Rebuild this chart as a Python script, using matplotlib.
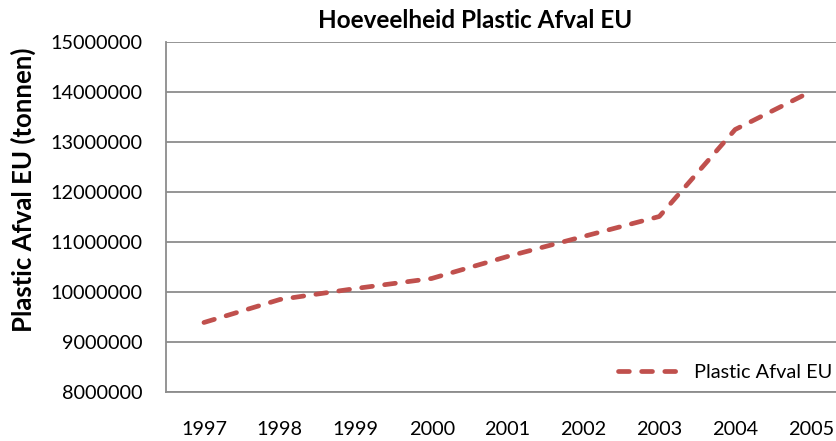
import matplotlib
matplotlib.use("Agg")
import matplotlib.pyplot as plt

years = ["1997", "1998", "1999", "2000", "2001", "2002", "2003", "2004", "2005"]
values = [9390000, 9850000, 10070000, 10270000, 10710000, 11110000, 11510000, 13250000, 14010000]
yticks = [8000000, 9000000, 10000000, 11000000, 12000000, 13000000, 14000000, 15000000]

plt.rcParams['font.family'] = ['Lato', 'DejaVu Sans']

fig = plt.figure(figsize=(8.37, 4.41), dpi=100)
ax = fig.add_axes([166/837, 1-392/441, 683/837, 350/441])

x = list(range(len(years)))
ax.plot(x, values, color="#C0504D", linewidth=3.4, linestyle=(0, (2.3, 2.6)),
        dash_capstyle="round", label="Plastic Afval EU")

ax.set_xlim(-0.5, len(years) - 0.5)
ax.set_ylim(8000000, 15000000)
ax.set_yticks(yticks)
ax.set_yticklabels([str(v) for v in yticks])
ax.set_xticks(x)
ax.set_xticklabels(years)
ax.yaxis.grid(True, color="#8c8c8c", linewidth=1.3)
ax.set_axisbelow(True)
for s in ["top", "right"]:
    ax.spines[s].set_visible(False)
for s in ["left", "bottom"]:
    ax.spines[s].set_color("#8c8c8c")
    ax.spines[s].set_linewidth(1.3)
ax.tick_params(axis="y", length=0, pad=17, labelsize=14.3)
ax.tick_params(axis="x", length=0, pad=21, labelsize=14.3)

fig.text(23/837, 1-190/441, "Plastic Afval EU (tonnen)", fontsize=18.5, fontweight="bold",
         rotation=90, ha="center", va="center")
fig.text(475/837, 1-20/441, "Hoeveelheid Plastic Afval EU", fontsize=17.5, fontweight="bold",
         ha="center", va="center")

leg = ax.legend(loc="center right", bbox_to_anchor=(832/837, 1-372/441), bbox_transform=fig.transFigure,
                frameon=False, fontsize=14.3, handlelength=3.3, handletextpad=0.5,
                borderaxespad=0, borderpad=0)

fig.savefig("out.png", dpi=100)
